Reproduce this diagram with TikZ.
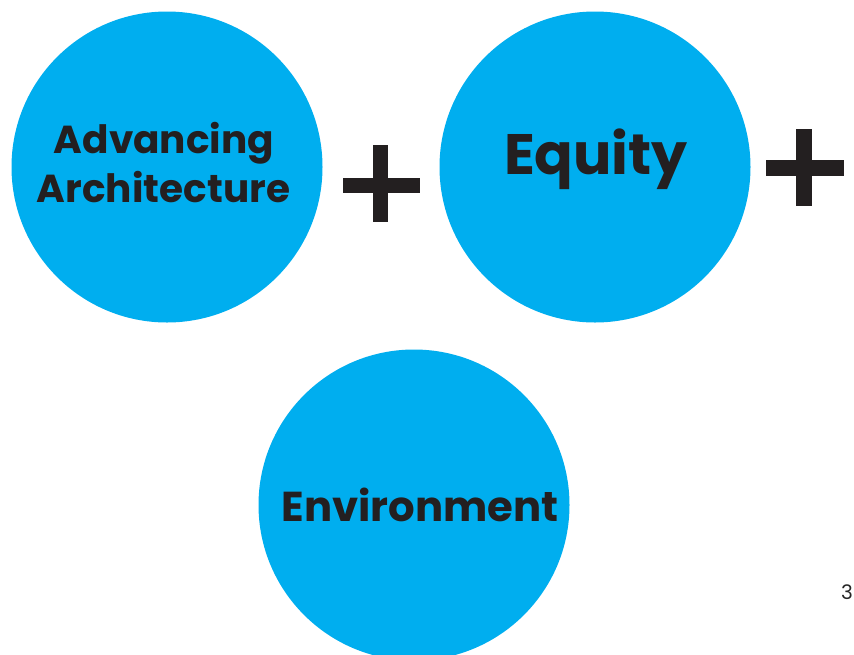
\documentclass[tikz,border=0pt]{standalone}
\usepackage{fontspec}
\setmainfont{Poppins}
\definecolor{dotblue}{HTML}{00AEEF}
\definecolor{ink}{HTML}{231F20}
\begin{document}
\begin{tikzpicture}[x=1pt,y=-1pt,
  disc/.style={circle,fill=dotblue,draw=none,minimum size=311pt,inner sep=0pt},
  word/.style={text=ink,font=\bfseries,anchor=base,inner sep=0pt},
  plusbar/.style={fill=ink,draw=none}]
\path[use as bounding box,fill=white] (0,0) rectangle (854,654);
\node[disc] (c1) at (167,167) {};
\node[disc] (c2) at (595,167) {};
\node[disc] (c3) at (414,505) {};
\node[word,font=\fontsize{39}{39}\selectfont\bfseries] (t1a) at (164,153) {Advancing};
\node[word,font=\fontsize{39}{39}\selectfont\bfseries] (t1b) at (163.5,202) {Architecture};
\node[word,font=\fontsize{57}{57}\selectfont\bfseries] (t2) at (596,174) {Equity};
\node[word,font=\fontsize{41.8}{42}\selectfont\bfseries] (t3) at (420,521.7) {Environment};
% plus signs
\fill[plusbar] (372.5,145) rectangle (388,222);
\fill[plusbar] (342.5,177.5) rectangle (419.5,192.5);
\fill[plusbar] (796,128.5) rectangle (811.5,205.5);
\fill[plusbar] (766,160) rectangle (843.5,175.5);
\node[text=black!85,font=\fontsize{20}{20}\selectfont,anchor=base west,inner sep=0pt] (pg) at (841,599) {3};
\end{tikzpicture}
\end{document}
